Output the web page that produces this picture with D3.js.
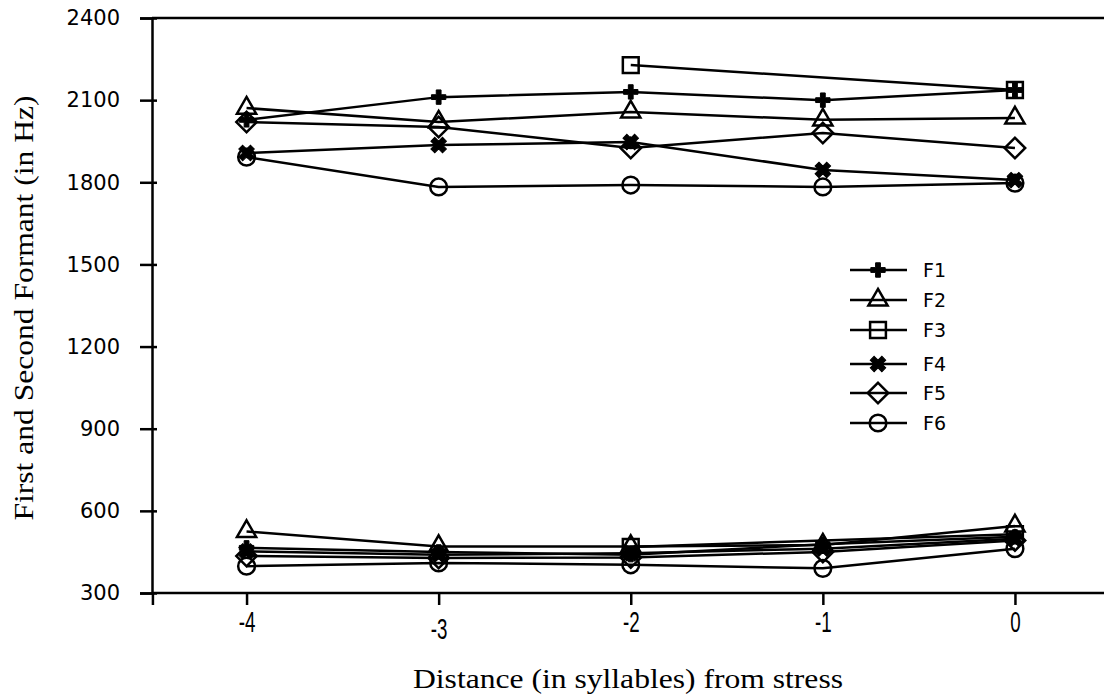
<!DOCTYPE html>
<html>
<head>
<meta charset="utf-8">
<script src="https://cdn.jsdelivr.net/npm/d3@7"></script>
<style>
  body { margin: 0; background: #fff; }
  svg { display: block; }
</style>
</head>
<body>
<div id="chart"></div>
<script>
// chart values
let positions = [-4, -3, -2, -1, 0];
let seriesNames = ["F1", "F2", "F3", "F4", "F5", "F6"];
let yTicks = [300, 600, 900, 1200, 1500, 1800, 2100, 2400];

// upper group (second formant)
let upperF1 = [2028, 2111, 2130, 2100, 2137];
let upperF2 = [2071, 2020, 2057, 2028, 2035];
let upperF3 = [null, null, 2228, null, 2137];
let upperF4 = [1907, 1936, 1947, 1845, 1808];
let upperF5 = [2020, 2002, 1925, 1980, 1925];
let upperF6 = [1892, 1783, 1790, 1783, 1797];

// lower group (first formant)
let lowerF1 = [465, 450, 440, 478, 505];
let lowerF2 = [525, 470, 470, 475, 545];
let lowerF3 = [null, null, 468, null, 515];
let lowerF4 = [452, 440, 445, 462, 498];
let lowerF5 = [435, 428, 430, 450, 492];
let lowerF6 = [398, 410, 403, 390, 462];

let svgWidth = 1104;
let svgHeight = 698;

let svg = d3.select("#chart")
  .append("svg")
  .attr("width", svgWidth)
  .attr("height", svgHeight);

let xScale = d3.scaleLinear().domain([-4.5, 0.5]).range([150.5, 1111]);
let yScale = d3.scaleLinear().domain([300, 2400]).range([593, 18]);

// frame: top line
svg.append("line")
  .attr("x1", 152).attr("x2", svgWidth)
  .attr("y1", yScale(2400)).attr("y2", yScale(2400))
  .attr("stroke", "#000").attr("stroke-width", 2.5);

// y axis
let yAxis = svg.append("g")
  .attr("transform", "translate(152,0)")
  .call(d3.axisLeft(yScale).tickValues(yTicks).tickSize(12).tickPadding(20)
    .tickFormat(d => String(d)));
yAxis.select(".domain").attr("stroke-width", 2.5);
yAxis.selectAll(".tick line").attr("stroke-width", 2.5).attr("x2", -12).attr("x1", 5);
yAxis.selectAll(".tick text")
  .attr("font-family", "DejaVu Sans, Verdana, sans-serif")
  .attr("font-size", 21)
  .attr("fill", "#000");

// x axis
let xAxis = svg.append("g")
  .attr("transform", "translate(0,593)")
  .call(d3.axisBottom(xScale).tickValues([-4.49, -4, -3, -2, -1, 0]).tickSize(12)
    .tickFormat(d => d < -4.2 ? "" : String(d)));
xAxis.select(".domain").attr("stroke-width", 2.5).attr("d", "M152,0H" + svgWidth);
xAxis.selectAll(".tick line").attr("stroke-width", 2.5);
xAxis.selectAll(".tick text")
  .attr("font-family", "Liberation Sans, Arial, sans-serif")
  .attr("font-size", 25)
  .attr("fill", "#000")
  .attr("dy", null)
  .attr("transform", "scale(0.75,1.15)")
  .attr("y", d => d === -3 ? 40 : 34);

// axis titles
svg.append("text")
  .attr("x", 628).attr("y", 688)
  .attr("text-anchor", "middle")
  .attr("font-family", "Liberation Serif, Times New Roman, serif")
  .attr("font-size", 28)
  .attr("textLength", 430)
  .attr("lengthAdjust", "spacingAndGlyphs")
  .text("Distance (in syllables) from stress");

svg.append("text")
  .attr("transform", "translate(33,308) rotate(-90)")
  .attr("text-anchor", "middle")
  .attr("font-family", "Liberation Serif, Times New Roman, serif")
  .attr("font-size", 28)
  .attr("textLength", 425)
  .attr("lengthAdjust", "spacingAndGlyphs")
  .text("First and Second Formant (in Hz)");

// marker shapes
let markers = {
  F1: { type: d3.symbolCross, size: 115, rotate: 0, fill: "#000" },
  F2: { type: d3.symbolTriangle, size: 160, rotate: 0, fill: "none" },
  F3: { type: d3.symbolSquare, size: 250, rotate: 0, fill: "none" },
  F4: { type: d3.symbolCross, size: 150, rotate: 45, fill: "#000" },
  F5: { type: d3.symbolSquare, size: 210, rotate: 45, fill: "none" },
  F6: { type: d3.symbolCircle, size: 220, rotate: 0, fill: "none" }
};

function drawMarker(g, name, x, y) {
  let m = markers[name];
  g.append("path")
    .attr("d", d3.symbol().type(m.type).size(m.size)())
    .attr("transform", `translate(${x},${y}) rotate(${m.rotate})`)
    .attr("fill", m.fill)
    .attr("stroke", "#000")
    .attr("stroke-width", m.fill === "none" ? 2.5 : 1);
}

let groups = [
  [upperF1, upperF2, upperF3, upperF4, upperF5, upperF6],
  [lowerF1, lowerF2, lowerF3, lowerF4, lowerF5, lowerF6]
];

let line = d3.line()
  .x(d => xScale(d.x))
  .y(d => yScale(d.v));

let plot = svg.append("g");

// connecting lines (missing points are skipped)
groups.forEach(function(group) {
  group.forEach(function(values, i) {
    let pts = positions.map((x, j) => ({ x: x, v: values[j] }))
      .filter(p => p.v !== null);
    plot.append("path")
      .attr("d", line(pts))
      .attr("fill", "none")
      .attr("stroke", "#000")
      .attr("stroke-width", 2.5);
  });
});

groups.forEach(function(group) {
  group.forEach(function(values, i) {
    positions.forEach(function(x, j) {
      if (values[j] !== null) drawMarker(plot, seriesNames[i], xScale(x), yScale(values[j]));
    });
  });
});

// legend
let legendRows = [270, 300, 330, 364, 393, 423];
let legend = svg.append("g");
seriesNames.forEach(function(name, i) {
  let y = legendRows[i];
  legend.append("line")
    .attr("x1", 850).attr("x2", 907)
    .attr("y1", y).attr("y2", y)
    .attr("stroke", "#000").attr("stroke-width", 2.5);
  drawMarker(legend, name, 878, y);
  legend.append("text")
    .attr("x", 923).attr("y", y + 7)
    .attr("font-family", "DejaVu Sans, Verdana, sans-serif")
    .attr("font-size", 19)
    .text(name);
});
</script>
</body>
</html>
